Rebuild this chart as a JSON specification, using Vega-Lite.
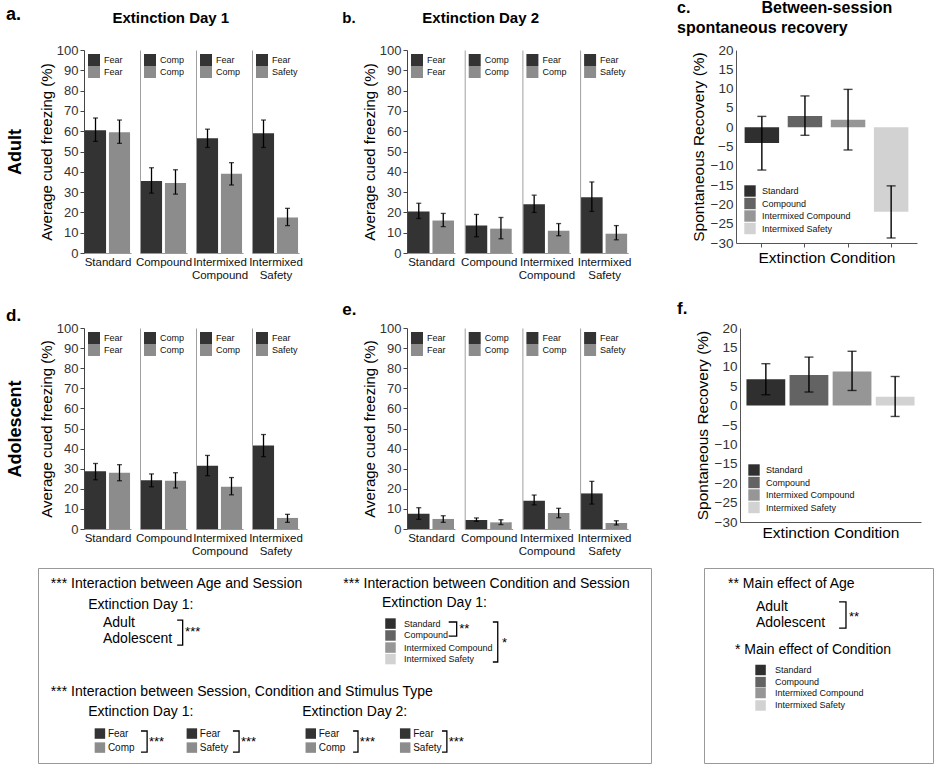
{
"$schema": "https://vega.github.io/schema/vega-lite/v6.json",
"background": "white",
"padding": {"left": 6, "top": 0, "right": 2, "bottom": 2},
"datasets": {
"freezing": [
{"age":"Adult","day":1,"condition":"Standard","order":1,"stim":"Fear","mean":60.5,"lo":55,"hi":66.5},
{"age":"Adult","day":1,"condition":"Standard","order":2,"stim":"Fear","mean":59.5,"lo":54,"hi":65.5},
{"age":"Adult","day":1,"condition":"Compound","order":1,"stim":"Comp","mean":35.5,"lo":29.5,"hi":42},
{"age":"Adult","day":1,"condition":"Compound","order":2,"stim":"Comp","mean":34.5,"lo":29,"hi":41},
{"age":"Adult","day":1,"condition":"Intermixed Compound","order":1,"stim":"Fear","mean":56.5,"lo":52,"hi":61},
{"age":"Adult","day":1,"condition":"Intermixed Compound","order":2,"stim":"Comp","mean":39,"lo":33.5,"hi":44.5},
{"age":"Adult","day":1,"condition":"Intermixed Safety","order":1,"stim":"Fear","mean":59,"lo":52,"hi":65.5},
{"age":"Adult","day":1,"condition":"Intermixed Safety","order":2,"stim":"Safety","mean":17.5,"lo":13.5,"hi":22},
{"age":"Adult","day":2,"condition":"Standard","order":1,"stim":"Fear","mean":20.5,"lo":17,"hi":24.5},
{"age":"Adult","day":2,"condition":"Standard","order":2,"stim":"Fear","mean":16,"lo":13,"hi":19.5},
{"age":"Adult","day":2,"condition":"Compound","order":1,"stim":"Comp","mean":13.5,"lo":8,"hi":19},
{"age":"Adult","day":2,"condition":"Compound","order":2,"stim":"Comp","mean":12,"lo":7,"hi":17.5},
{"age":"Adult","day":2,"condition":"Intermixed Compound","order":1,"stim":"Fear","mean":24,"lo":20,"hi":28.5},
{"age":"Adult","day":2,"condition":"Intermixed Compound","order":2,"stim":"Comp","mean":11,"lo":8.5,"hi":14.5},
{"age":"Adult","day":2,"condition":"Intermixed Safety","order":1,"stim":"Fear","mean":27.5,"lo":20.5,"hi":35},
{"age":"Adult","day":2,"condition":"Intermixed Safety","order":2,"stim":"Safety","mean":9.5,"lo":6.5,"hi":13.5},
{"age":"Adolescent","day":1,"condition":"Standard","order":1,"stim":"Fear","mean":28.7,"lo":24.5,"hi":32.6},
{"age":"Adolescent","day":1,"condition":"Standard","order":2,"stim":"Fear","mean":28,"lo":24,"hi":32},
{"age":"Adolescent","day":1,"condition":"Compound","order":1,"stim":"Comp","mean":24.2,"lo":21,"hi":27.4},
{"age":"Adolescent","day":1,"condition":"Compound","order":2,"stim":"Comp","mean":24,"lo":20.4,"hi":28},
{"age":"Adolescent","day":1,"condition":"Intermixed Compound","order":1,"stim":"Fear","mean":31.5,"lo":26.5,"hi":36.6},
{"age":"Adolescent","day":1,"condition":"Intermixed Compound","order":2,"stim":"Comp","mean":21,"lo":17,"hi":25.6},
{"age":"Adolescent","day":1,"condition":"Intermixed Safety","order":1,"stim":"Fear","mean":41.5,"lo":36,"hi":47},
{"age":"Adolescent","day":1,"condition":"Intermixed Safety","order":2,"stim":"Safety","mean":5.5,"lo":3.3,"hi":7.3},
{"age":"Adolescent","day":2,"condition":"Standard","order":1,"stim":"Fear","mean":7.6,"lo":4.8,"hi":10.6},
{"age":"Adolescent","day":2,"condition":"Standard","order":2,"stim":"Fear","mean":5,"lo":3.3,"hi":6.6},
{"age":"Adolescent","day":2,"condition":"Compound","order":1,"stim":"Comp","mean":4.5,"lo":3.8,"hi":5.5},
{"age":"Adolescent","day":2,"condition":"Compound","order":2,"stim":"Comp","mean":3.3,"lo":2.2,"hi":4.6},
{"age":"Adolescent","day":2,"condition":"Intermixed Compound","order":1,"stim":"Fear","mean":14,"lo":12,"hi":16.9},
{"age":"Adolescent","day":2,"condition":"Intermixed Compound","order":2,"stim":"Comp","mean":8,"lo":5.6,"hi":10.3},
{"age":"Adolescent","day":2,"condition":"Intermixed Safety","order":1,"stim":"Fear","mean":17.7,"lo":12.4,"hi":23.7},
{"age":"Adolescent","day":2,"condition":"Intermixed Safety","order":2,"stim":"Safety","mean":3,"lo":2,"hi":4.1}
],
"recovery": [
{"age":"Adult","condition":"Standard","sr":-4.1,"lo":-11.1,"hi":2.8},
{"age":"Adult","condition":"Compound","sr":2.9,"lo":-2.1,"hi":8.1},
{"age":"Adult","condition":"Intermixed Compound","sr":1.9,"lo":-5.9,"hi":9.8},
{"age":"Adult","condition":"Intermixed Safety","sr":-21.9,"lo":-28.7,"hi":-15.2},
{"age":"Adolescent","condition":"Standard","sr":6.8,"lo":2.8,"hi":10.8},
{"age":"Adolescent","condition":"Compound","sr":7.9,"lo":3.5,"hi":12.5},
{"age":"Adolescent","condition":"Intermixed Compound","sr":8.8,"lo":3.9,"hi":14},
{"age":"Adolescent","condition":"Intermixed Safety","sr":2.3,"lo":-2.8,"hi":7.5}
],
"ann": [
{"box":1,"kind":"h","text":"*** Interaction between Age and Session","x":2.1,"y":8.2},
{"box":1,"kind":"h","text":"*** Interaction between Condition and Session","x":49.8,"y":8.2},
{"box":1,"kind":"h","text":"Extinction Day 1:","x":8.2,"y":19},
{"box":1,"kind":"h","text":"Extinction Day 1:","x":56.1,"y":18},
{"box":1,"kind":"h","text":"Adult","x":10.6,"y":28.2},
{"box":1,"kind":"h","text":"Adolescent","x":10.6,"y":36.4},
{"box":1,"kind":"m","text":"***","x":24.0,"y":32.8},
{"box":1,"kind":"m","text":"**","x":68.7,"y":31.5},
{"box":1,"kind":"m","text":"*","x":75.7,"y":38.5},
{"box":1,"kind":"h","text":"*** Interaction between Session, Condition and Stimulus Type","x":2.1,"y":63.6},
{"box":1,"kind":"h","text":"Extinction Day 1:","x":8.2,"y":73.8},
{"box":1,"kind":"h","text":"Extinction Day 2:","x":43.1,"y":73.8},
{"box":1,"kind":"m","text":"***","x":18.1,"y":89.2},
{"box":1,"kind":"m","text":"***","x":33.1,"y":89.2},
{"box":1,"kind":"m","text":"***","x":52.5,"y":89.2},
{"box":1,"kind":"m","text":"***","x":67.0,"y":89.2},
{"box":1,"kind":"s","text":"Standard","x":59.7,"y":28.5},
{"box":1,"kind":"s","text":"Compound","x":59.7,"y":34.6},
{"box":1,"kind":"s","text":"Intermixed Compound","x":59.7,"y":40.8},
{"box":1,"kind":"s","text":"Intermixed Safety","x":59.7,"y":46.7},
{"box":1,"kind":"sw","key":"Standard","x":57.5,"y":28.5},
{"box":1,"kind":"sw","key":"Compound","x":57.5,"y":34.6},
{"box":1,"kind":"sw","key":"Intermixed Compound","x":57.5,"y":40.8},
{"box":1,"kind":"sw","key":"Intermixed Safety","x":57.5,"y":46.7},
{"box":1,"kind":"c","text":"Fear","x":11.4,"y":85},
{"box":1,"kind":"c","text":"Comp","x":11.4,"y":92.2},
{"box":1,"kind":"c","text":"Fear","x":26.4,"y":85},
{"box":1,"kind":"c","text":"Safety","x":26.4,"y":92.2},
{"box":1,"kind":"c","text":"Fear","x":45.8,"y":85},
{"box":1,"kind":"c","text":"Comp","x":45.8,"y":92.2},
{"box":1,"kind":"c","text":"Fear","x":61.2,"y":85},
{"box":1,"kind":"c","text":"Safety","x":61.2,"y":92.2},
{"box":1,"kind":"sw","key":"first","x":10.1,"y":84.9},
{"box":1,"kind":"sw","key":"second","x":10.1,"y":92.1},
{"box":1,"kind":"sw","key":"first","x":25.1,"y":84.9},
{"box":1,"kind":"sw","key":"second","x":25.1,"y":92.1},
{"box":1,"kind":"sw","key":"first","x":44.5,"y":84.9},
{"box":1,"kind":"sw","key":"second","x":44.5,"y":92.1},
{"box":1,"kind":"sw","key":"first","x":59.9,"y":84.9},
{"box":1,"kind":"sw","key":"second","x":59.9,"y":92.1},
{"box":1,"kind":"br","bid":"b1","seq":0,"x":22.7,"y":26.7},
{"box":1,"kind":"br","bid":"b1","seq":1,"x":23.6,"y":26.7},
{"box":1,"kind":"br","bid":"b1","seq":2,"x":23.6,"y":39.5},
{"box":1,"kind":"br","bid":"b1","seq":3,"x":22.7,"y":39.5},
{"box":1,"kind":"br","bid":"b2","seq":0,"x":67.0,"y":27.7},
{"box":1,"kind":"br","bid":"b2","seq":1,"x":68.3,"y":27.7},
{"box":1,"kind":"br","bid":"b2","seq":2,"x":68.3,"y":34.9},
{"box":1,"kind":"br","bid":"b2","seq":3,"x":67.0,"y":34.9},
{"box":1,"kind":"br","bid":"b3","seq":0,"x":74.2,"y":27.7},
{"box":1,"kind":"br","bid":"b3","seq":1,"x":75.0,"y":27.7},
{"box":1,"kind":"br","bid":"b3","seq":2,"x":75.0,"y":48.2},
{"box":1,"kind":"br","bid":"b3","seq":3,"x":74.2,"y":48.2},
{"box":1,"kind":"br","bid":"g1","seq":0,"x":16.8,"y":83.6},
{"box":1,"kind":"br","bid":"g1","seq":1,"x":17.8,"y":83.6},
{"box":1,"kind":"br","bid":"g1","seq":2,"x":17.8,"y":94.4},
{"box":1,"kind":"br","bid":"g1","seq":3,"x":16.8,"y":94.4},
{"box":1,"kind":"br","bid":"g2","seq":0,"x":31.8,"y":83.6},
{"box":1,"kind":"br","bid":"g2","seq":1,"x":32.8,"y":83.6},
{"box":1,"kind":"br","bid":"g2","seq":2,"x":32.8,"y":94.4},
{"box":1,"kind":"br","bid":"g2","seq":3,"x":31.8,"y":94.4},
{"box":1,"kind":"br","bid":"g3","seq":0,"x":51.4,"y":83.6},
{"box":1,"kind":"br","bid":"g3","seq":1,"x":52.2,"y":83.6},
{"box":1,"kind":"br","bid":"g3","seq":2,"x":52.2,"y":94.4},
{"box":1,"kind":"br","bid":"g3","seq":3,"x":51.4,"y":94.4},
{"box":1,"kind":"br","bid":"g4","seq":0,"x":65.9,"y":83.6},
{"box":1,"kind":"br","bid":"g4","seq":1,"x":66.7,"y":83.6},
{"box":1,"kind":"br","bid":"g4","seq":2,"x":66.7,"y":94.4},
{"box":1,"kind":"br","bid":"g4","seq":3,"x":65.9,"y":94.4},
{"box":2,"kind":"h","text":"** Main effect of Age","x":10.5,"y":8.2},
{"box":2,"kind":"h","text":"Adult","x":22.7,"y":20},
{"box":2,"kind":"h","text":"Adolescent","x":22.7,"y":28.2},
{"box":2,"kind":"m","text":"**","x":63.3,"y":25.1},
{"box":2,"kind":"h","text":"* Main effect of Condition","x":13.5,"y":42.1},
{"box":2,"kind":"s","text":"Standard","x":31,"y":52.3},
{"box":2,"kind":"s","text":"Compound","x":31,"y":58.5},
{"box":2,"kind":"s","text":"Intermixed Compound","x":31,"y":64.1},
{"box":2,"kind":"s","text":"Intermixed Safety","x":31,"y":70.5},
{"box":2,"kind":"sw","key":"Standard","x":24.7,"y":52.3},
{"box":2,"kind":"sw","key":"Compound","x":24.7,"y":58.5},
{"box":2,"kind":"sw","key":"Intermixed Compound","x":24.7,"y":64.1},
{"box":2,"kind":"sw","key":"Intermixed Safety","x":24.7,"y":70.5},
{"box":2,"kind":"br","bid":"a1","seq":0,"x":59.0,"y":17.4},
{"box":2,"kind":"br","bid":"a1","seq":1,"x":62.0,"y":17.4},
{"box":2,"kind":"br","bid":"a1","seq":2,"x":62.0,"y":30.8},
{"box":2,"kind":"br","bid":"a1","seq":3,"x":59.0,"y":30.8}
]
},
"config": {
"font": "Liberation Sans",
"view": {"stroke": null},
"axis": {"grid": false, "labelFont": "Liberation Sans", "titleFont": "Liberation Sans", "titleFontWeight": "normal", "domainWidth": 1},
"axisX": {"labels": false, "ticks": false, "domainColor": "#999999", "titleFontSize": 11.5, "titlePadding": 3, "titleColor": "#111111", "titleLineHeight": 13.5},
"axisY": {"labels": false, "ticks": false, "domainColor": "#a0a0a0"},
"legend": {"orient": "top-left", "offset": 4, "symbolType": "square", "symbolSize": 144, "symbolStrokeWidth": 0, "labelFontSize": 9, "labelOffset": 4, "padding": 0, "rowPadding": 0, "labelColor": "#111111", "labelFont": "Liberation Sans"},
"title": {"font": "Liberation Sans", "fontWeight": "bold", "color": "#000000"}
},
"resolve": {"scale": {"color": "independent"}, "legend": {"color": "independent"}},
"spacing": 10,
"vconcat": [
{
"resolve": {"scale": {"color": "independent"}, "legend": {"color": "independent"}},
"spacing": 19,
"vconcat": [
{
"resolve": {"scale": {"color": "independent"}, "legend": {"color": "independent"}},
"spacing": 0,
"hconcat": [
{"title": {"text": "a.", "anchor": "start", "frame": "bounds", "fontSize": 18, "offset": 26}, "width": 1, "height": 203, "data": {"name": "freezing"}, "transform": [{"filter": "datum.age==='Adult'"}], "mark": {"type": "point", "opacity": 0, "size": 0, "strokeWidth": 0}, "encoding": {"y": {"field": "mean", "type": "quantitative", "scale": {"domain": [0, 100]}, "axis": {"title": "Adult", "labels": false, "ticks": false, "domain": false, "titleFontSize": 18, "titleFontWeight": "bold", "titleColor": "#000000", "titlePadding": 14}}}},
{
"resolve": {"scale": {"color": "independent"}, "legend": {"color": "independent"}},
"spacing": 46,
"hconcat": [
{
"resolve": {"scale": {"color": "independent"}, "legend": {"color": "independent"}},
"spacing": 39,
"hconcat": [
{
"title": {"text": "Extinction Day 1", "anchor": "middle", "frame": "bounds", "fontSize": 15, "offset": 18},
"spacing": 9,
"bounds": "flush",
"resolve": {"scale": {"color": "independent"}, "legend": {"color": "independent"}},
"hconcat": [
{"width":47,"height":203,"data":{"name":"freezing"},"transform":[{"filter":"datum.age==='Adult' && datum.day===1 && datum.condition==='Standard'"},{"calculate":"datum.order + ' ' + datum.stim","as":"key"}],"encoding":{"x":{"field":"key","type":"nominal","scale":{"paddingInner":0.12,"paddingOuter":0.04},"axis":{"title":"Standard"}}},"layer":[{"mark":{"type":"bar"},"encoding":{"y":{"field":"mean","type":"quantitative","scale":{"domain":[0,100]},"axis":{"title":"Average cued freezing (%)","labels":true,"ticks":true,"values":[0,10,20,30,40,50,60,70,80,90,100],"tickSize":4,"labelFontSize":13,"labelPadding":2,"labelColor":"#333333","titleFontSize":15,"titlePadding":2,"titleColor":"#000000","domainColor":"#444444","tickColor":"#444444"}},"color":{"field":"key","type":"nominal","title":null,"scale":{"range":["#333333","#8c8c8c"]},"legend":{"labelExpr":"substring(datum.label, 2)"}}}},{"mark":{"type":"errorbar","ticks":true,"size":5,"thickness":1.3,"color":"#000000"},"encoding":{"y":{"field":"lo","type":"quantitative","scale":{"domain":[0,100]},"axis":{"title":"Average cued freezing (%)","labels":true,"ticks":true,"values":[0,10,20,30,40,50,60,70,80,90,100],"tickSize":4,"labelFontSize":13,"labelPadding":2,"labelColor":"#333333","titleFontSize":15,"titlePadding":2,"titleColor":"#000000","domainColor":"#444444","tickColor":"#444444"}},"y2":{"field":"hi"}}}]},
{"width":47,"height":203,"data":{"name":"freezing"},"transform":[{"filter":"datum.age==='Adult' && datum.day===1 && datum.condition==='Compound'"},{"calculate":"datum.order + ' ' + datum.stim","as":"key"}],"encoding":{"x":{"field":"key","type":"nominal","scale":{"paddingInner":0.12,"paddingOuter":0.04},"axis":{"title":"Compound"}}},"layer":[{"mark":{"type":"bar"},"encoding":{"y":{"field":"mean","type":"quantitative","scale":{"domain":[0,100]},"axis":{"title":null}},"color":{"field":"key","type":"nominal","title":null,"scale":{"range":["#333333","#8c8c8c"]},"legend":{"labelExpr":"substring(datum.label, 2)"}}}},{"mark":{"type":"errorbar","ticks":true,"size":5,"thickness":1.3,"color":"#000000"},"encoding":{"y":{"field":"lo","type":"quantitative","scale":{"domain":[0,100]},"axis":{"title":null}},"y2":{"field":"hi"}}}]},
{"width":47,"height":203,"data":{"name":"freezing"},"transform":[{"filter":"datum.age==='Adult' && datum.day===1 && datum.condition==='Intermixed Compound'"},{"calculate":"datum.order + ' ' + datum.stim","as":"key"}],"encoding":{"x":{"field":"key","type":"nominal","scale":{"paddingInner":0.12,"paddingOuter":0.04},"axis":{"title":["Intermixed","Compound"]}}},"layer":[{"mark":{"type":"bar"},"encoding":{"y":{"field":"mean","type":"quantitative","scale":{"domain":[0,100]},"axis":{"title":null}},"color":{"field":"key","type":"nominal","title":null,"scale":{"range":["#333333","#8c8c8c"]},"legend":{"labelExpr":"substring(datum.label, 2)"}}}},{"mark":{"type":"errorbar","ticks":true,"size":5,"thickness":1.3,"color":"#000000"},"encoding":{"y":{"field":"lo","type":"quantitative","scale":{"domain":[0,100]},"axis":{"title":null}},"y2":{"field":"hi"}}}]},
{"width":47,"height":203,"data":{"name":"freezing"},"transform":[{"filter":"datum.age==='Adult' && datum.day===1 && datum.condition==='Intermixed Safety'"},{"calculate":"datum.order + ' ' + datum.stim","as":"key"}],"encoding":{"x":{"field":"key","type":"nominal","scale":{"paddingInner":0.12,"paddingOuter":0.04},"axis":{"title":["Intermixed","Safety"]}}},"layer":[{"mark":{"type":"bar"},"encoding":{"y":{"field":"mean","type":"quantitative","scale":{"domain":[0,100]},"axis":{"title":null}},"color":{"field":"key","type":"nominal","title":null,"scale":{"range":["#333333","#8c8c8c"]},"legend":{"labelExpr":"substring(datum.label, 2)"}}}},{"mark":{"type":"errorbar","ticks":true,"size":5,"thickness":1.3,"color":"#000000"},"encoding":{"y":{"field":"lo","type":"quantitative","scale":{"domain":[0,100]},"axis":{"title":null}},"y2":{"field":"hi"}}}]}
]
},
{
"title": {"text": "b.\u00a0\u00a0\u00a0\u00a0\u00a0\u00a0\u00a0\u00a0\u00a0\u00a0\u00a0\u00a0\u00a0\u00a0\u00a0\u00a0Extinction Day 2", "anchor": "start", "frame": "bounds", "dx": -20, "fontSize": 15, "offset": 18},
"spacing": 9.7,
"bounds": "flush",
"resolve": {"scale": {"color": "independent"}, "legend": {"color": "independent"}},
"hconcat": [
{"width":48,"height":203,"data":{"name":"freezing"},"transform":[{"filter":"datum.age==='Adult' && datum.day===2 && datum.condition==='Standard'"},{"calculate":"datum.order + ' ' + datum.stim","as":"key"}],"encoding":{"x":{"field":"key","type":"nominal","scale":{"paddingInner":0.12,"paddingOuter":0.04},"axis":{"title":"Standard"}}},"layer":[{"mark":{"type":"bar"},"encoding":{"y":{"field":"mean","type":"quantitative","scale":{"domain":[0,100]},"axis":{"title":"Average cued freezing (%)","labels":true,"ticks":true,"values":[0,10,20,30,40,50,60,70,80,90,100],"tickSize":4,"labelFontSize":13,"labelPadding":2,"labelColor":"#333333","titleFontSize":15,"titlePadding":2,"titleColor":"#000000","domainColor":"#444444","tickColor":"#444444"}},"color":{"field":"key","type":"nominal","title":null,"scale":{"range":["#333333","#8c8c8c"]},"legend":{"labelExpr":"substring(datum.label, 2)"}}}},{"mark":{"type":"errorbar","ticks":true,"size":5,"thickness":1.3,"color":"#000000"},"encoding":{"y":{"field":"lo","type":"quantitative","scale":{"domain":[0,100]},"axis":{"title":"Average cued freezing (%)","labels":true,"ticks":true,"values":[0,10,20,30,40,50,60,70,80,90,100],"tickSize":4,"labelFontSize":13,"labelPadding":2,"labelColor":"#333333","titleFontSize":15,"titlePadding":2,"titleColor":"#000000","domainColor":"#444444","tickColor":"#444444"}},"y2":{"field":"hi"}}}]},
{"width":48,"height":203,"data":{"name":"freezing"},"transform":[{"filter":"datum.age==='Adult' && datum.day===2 && datum.condition==='Compound'"},{"calculate":"datum.order + ' ' + datum.stim","as":"key"}],"encoding":{"x":{"field":"key","type":"nominal","scale":{"paddingInner":0.12,"paddingOuter":0.04},"axis":{"title":"Compound"}}},"layer":[{"mark":{"type":"bar"},"encoding":{"y":{"field":"mean","type":"quantitative","scale":{"domain":[0,100]},"axis":{"title":null}},"color":{"field":"key","type":"nominal","title":null,"scale":{"range":["#333333","#8c8c8c"]},"legend":{"labelExpr":"substring(datum.label, 2)"}}}},{"mark":{"type":"errorbar","ticks":true,"size":5,"thickness":1.3,"color":"#000000"},"encoding":{"y":{"field":"lo","type":"quantitative","scale":{"domain":[0,100]},"axis":{"title":null}},"y2":{"field":"hi"}}}]},
{"width":48,"height":203,"data":{"name":"freezing"},"transform":[{"filter":"datum.age==='Adult' && datum.day===2 && datum.condition==='Intermixed Compound'"},{"calculate":"datum.order + ' ' + datum.stim","as":"key"}],"encoding":{"x":{"field":"key","type":"nominal","scale":{"paddingInner":0.12,"paddingOuter":0.04},"axis":{"title":["Intermixed","Compound"]}}},"layer":[{"mark":{"type":"bar"},"encoding":{"y":{"field":"mean","type":"quantitative","scale":{"domain":[0,100]},"axis":{"title":null}},"color":{"field":"key","type":"nominal","title":null,"scale":{"range":["#333333","#8c8c8c"]},"legend":{"labelExpr":"substring(datum.label, 2)"}}}},{"mark":{"type":"errorbar","ticks":true,"size":5,"thickness":1.3,"color":"#000000"},"encoding":{"y":{"field":"lo","type":"quantitative","scale":{"domain":[0,100]},"axis":{"title":null}},"y2":{"field":"hi"}}}]},
{"width":48,"height":203,"data":{"name":"freezing"},"transform":[{"filter":"datum.age==='Adult' && datum.day===2 && datum.condition==='Intermixed Safety'"},{"calculate":"datum.order + ' ' + datum.stim","as":"key"}],"encoding":{"x":{"field":"key","type":"nominal","scale":{"paddingInner":0.12,"paddingOuter":0.04},"axis":{"title":["Intermixed","Safety"]}}},"layer":[{"mark":{"type":"bar"},"encoding":{"y":{"field":"mean","type":"quantitative","scale":{"domain":[0,100]},"axis":{"title":null}},"color":{"field":"key","type":"nominal","title":null,"scale":{"range":["#333333","#8c8c8c"]},"legend":{"labelExpr":"substring(datum.label, 2)"}}}},{"mark":{"type":"errorbar","ticks":true,"size":5,"thickness":1.3,"color":"#000000"},"encoding":{"y":{"field":"lo","type":"quantitative","scale":{"domain":[0,100]},"axis":{"title":null}},"y2":{"field":"hi"}}}]}
]
}
]
},
{
"title": {"text": ["c.\u00a0\u00a0\u00a0\u00a0\u00a0\u00a0\u00a0\u00a0\u00a0\u00a0\u00a0\u00a0\u00a0\u00a0\u00a0\u00a0Between-session", "\u00a0\u00a0\u00a0\u00a0\u00a0\u00a0\u00a0\u00a0\u00a0\u00a0\u00a0\u00a0\u00a0\u00a0spontaneous recovery"], "anchor": "start", "frame": "group", "dx": -59, "fontSize": 16, "lineHeight": 20, "offset": 7},
"width": 181, "height": 193,
"data": {"name": "recovery"},
"transform": [{"filter": "datum.age==='Adult'"}],
"encoding": {"x": {"field": "condition", "type": "nominal", "sort": ["Standard","Compound","Intermixed Compound","Intermixed Safety"], "scale": {"paddingInner": 0.2, "paddingOuter": 0.2}, "axis": {"title": "Extinction Condition", "ticks": true, "tickSize": 4, "tickColor": "#555555", "domainColor": "#555555", "titleFontSize": 15.5, "titlePadding": 3, "titleColor": "#000000"}}},
"layer": [
{"mark": {"type": "bar"}, "encoding": {"y": {"field": "sr", "type": "quantitative", "scale": {"domain": [-30, 20], "nice": false}, "axis": {"title": "Spontaneous Recovery (%)", "labels": true, "ticks": false, "values": [-30,-25,-20,-15,-10,-5,0,5,10,15,20], "labelFontSize": 13.5, "labelPadding": 3, "labelColor": "#333333", "titleFontSize": 15.5, "titlePadding": 4, "titleColor": "#000000", "domainColor": "#555555"}}, "color": {"field": "condition", "type": "nominal", "title": null, "scale": {"domain": ["Standard","Compound","Intermixed Compound","Intermixed Safety"], "range": ["#2f2f2f","#636363","#969696","#d2d2d2"]}, "legend": {"orient": "bottom-left", "offset": 8, "symbolSize": 130, "labelFontSize": 9, "labelOffset": 6, "rowPadding": 0.5}}}},
{"mark": {"type": "errorbar", "ticks": true, "size": 9, "thickness": 1.4, "color": "#000000"}, "encoding": {"y": {"field": "lo", "type": "quantitative", "scale": {"domain": [-30, 20], "nice": false}, "axis": {"title": "Spontaneous Recovery (%)", "labels": true, "ticks": false, "values": [-30,-25,-20,-15,-10,-5,0,5,10,15,20], "labelFontSize": 13.5, "labelPadding": 3, "labelColor": "#333333", "titleFontSize": 15.5, "titlePadding": 4, "titleColor": "#000000", "domainColor": "#555555"}}, "y2": {"field": "hi"}}}
]
}
]
}
]
},
{
"resolve": {"scale": {"color": "independent"}, "legend": {"color": "independent"}},
"spacing": 0,
"hconcat": [
{"title": {"text": "d.", "anchor": "start", "frame": "bounds", "fontSize": 17, "offset": 3}, "width": 1, "height": 201, "data": {"name": "freezing"}, "transform": [{"filter": "datum.age==='Adolescent'"}], "mark": {"type": "point", "opacity": 0, "size": 0, "strokeWidth": 0}, "encoding": {"y": {"field": "mean", "type": "quantitative", "scale": {"domain": [0, 100]}, "axis": {"title": "Adolescent", "labels": false, "ticks": false, "domain": false, "titleFontSize": 18, "titleFontWeight": "bold", "titleColor": "#000000", "titlePadding": 14}}}},
{
"resolve": {"scale": {"color": "independent"}, "legend": {"color": "independent"}},
"spacing": 46,
"hconcat": [
{
"resolve": {"scale": {"color": "independent"}, "legend": {"color": "independent"}},
"spacing": 39,
"hconcat": [
{
"spacing": 9,
"bounds": "flush",
"resolve": {"scale": {"color": "independent"}, "legend": {"color": "independent"}},
"hconcat": [
{"width":47,"height":201,"data":{"name":"freezing"},"transform":[{"filter":"datum.age==='Adolescent' && datum.day===1 && datum.condition==='Standard'"},{"calculate":"datum.order + ' ' + datum.stim","as":"key"}],"encoding":{"x":{"field":"key","type":"nominal","scale":{"paddingInner":0.12,"paddingOuter":0.04},"axis":{"title":"Standard"}}},"layer":[{"mark":{"type":"bar"},"encoding":{"y":{"field":"mean","type":"quantitative","scale":{"domain":[0,100]},"axis":{"title":"Average cued freezing (%)","labels":true,"ticks":true,"values":[0,10,20,30,40,50,60,70,80,90,100],"tickSize":4,"labelFontSize":13,"labelPadding":2,"labelColor":"#333333","titleFontSize":15,"titlePadding":2,"titleColor":"#000000","domainColor":"#444444","tickColor":"#444444"}},"color":{"field":"key","type":"nominal","title":null,"scale":{"range":["#333333","#8c8c8c"]},"legend":{"labelExpr":"substring(datum.label, 2)"}}}},{"mark":{"type":"errorbar","ticks":true,"size":5,"thickness":1.3,"color":"#000000"},"encoding":{"y":{"field":"lo","type":"quantitative","scale":{"domain":[0,100]},"axis":{"title":"Average cued freezing (%)","labels":true,"ticks":true,"values":[0,10,20,30,40,50,60,70,80,90,100],"tickSize":4,"labelFontSize":13,"labelPadding":2,"labelColor":"#333333","titleFontSize":15,"titlePadding":2,"titleColor":"#000000","domainColor":"#444444","tickColor":"#444444"}},"y2":{"field":"hi"}}}]},
{"width":47,"height":201,"data":{"name":"freezing"},"transform":[{"filter":"datum.age==='Adolescent' && datum.day===1 && datum.condition==='Compound'"},{"calculate":"datum.order + ' ' + datum.stim","as":"key"}],"encoding":{"x":{"field":"key","type":"nominal","scale":{"paddingInner":0.12,"paddingOuter":0.04},"axis":{"title":"Compound"}}},"layer":[{"mark":{"type":"bar"},"encoding":{"y":{"field":"mean","type":"quantitative","scale":{"domain":[0,100]},"axis":{"title":null}},"color":{"field":"key","type":"nominal","title":null,"scale":{"range":["#333333","#8c8c8c"]},"legend":{"labelExpr":"substring(datum.label, 2)"}}}},{"mark":{"type":"errorbar","ticks":true,"size":5,"thickness":1.3,"color":"#000000"},"encoding":{"y":{"field":"lo","type":"quantitative","scale":{"domain":[0,100]},"axis":{"title":null}},"y2":{"field":"hi"}}}]},
{"width":47,"height":201,"data":{"name":"freezing"},"transform":[{"filter":"datum.age==='Adolescent' && datum.day===1 && datum.condition==='Intermixed Compound'"},{"calculate":"datum.order + ' ' + datum.stim","as":"key"}],"encoding":{"x":{"field":"key","type":"nominal","scale":{"paddingInner":0.12,"paddingOuter":0.04},"axis":{"title":["Intermixed","Compound"]}}},"layer":[{"mark":{"type":"bar"},"encoding":{"y":{"field":"mean","type":"quantitative","scale":{"domain":[0,100]},"axis":{"title":null}},"color":{"field":"key","type":"nominal","title":null,"scale":{"range":["#333333","#8c8c8c"]},"legend":{"labelExpr":"substring(datum.label, 2)"}}}},{"mark":{"type":"errorbar","ticks":true,"size":5,"thickness":1.3,"color":"#000000"},"encoding":{"y":{"field":"lo","type":"quantitative","scale":{"domain":[0,100]},"axis":{"title":null}},"y2":{"field":"hi"}}}]},
{"width":47,"height":201,"data":{"name":"freezing"},"transform":[{"filter":"datum.age==='Adolescent' && datum.day===1 && datum.condition==='Intermixed Safety'"},{"calculate":"datum.order + ' ' + datum.stim","as":"key"}],"encoding":{"x":{"field":"key","type":"nominal","scale":{"paddingInner":0.12,"paddingOuter":0.04},"axis":{"title":["Intermixed","Safety"]}}},"layer":[{"mark":{"type":"bar"},"encoding":{"y":{"field":"mean","type":"quantitative","scale":{"domain":[0,100]},"axis":{"title":null}},"color":{"field":"key","type":"nominal","title":null,"scale":{"range":["#333333","#8c8c8c"]},"legend":{"labelExpr":"substring(datum.label, 2)"}}}},{"mark":{"type":"errorbar","ticks":true,"size":5,"thickness":1.3,"color":"#000000"},"encoding":{"y":{"field":"lo","type":"quantitative","scale":{"domain":[0,100]},"axis":{"title":null}},"y2":{"field":"hi"}}}]}
]
},
{
"title": {"text": "e.", "anchor": "start", "frame": "bounds", "dx": -20, "fontSize": 17, "offset": 3},
"spacing": 9.7,
"bounds": "flush",
"resolve": {"scale": {"color": "independent"}, "legend": {"color": "independent"}},
"hconcat": [
{"width":48,"height":201,"data":{"name":"freezing"},"transform":[{"filter":"datum.age==='Adolescent' && datum.day===2 && datum.condition==='Standard'"},{"calculate":"datum.order + ' ' + datum.stim","as":"key"}],"encoding":{"x":{"field":"key","type":"nominal","scale":{"paddingInner":0.12,"paddingOuter":0.04},"axis":{"title":"Standard"}}},"layer":[{"mark":{"type":"bar"},"encoding":{"y":{"field":"mean","type":"quantitative","scale":{"domain":[0,100]},"axis":{"title":"Average cued freezing (%)","labels":true,"ticks":true,"values":[0,10,20,30,40,50,60,70,80,90,100],"tickSize":4,"labelFontSize":13,"labelPadding":2,"labelColor":"#333333","titleFontSize":15,"titlePadding":2,"titleColor":"#000000","domainColor":"#444444","tickColor":"#444444"}},"color":{"field":"key","type":"nominal","title":null,"scale":{"range":["#333333","#8c8c8c"]},"legend":{"labelExpr":"substring(datum.label, 2)"}}}},{"mark":{"type":"errorbar","ticks":true,"size":5,"thickness":1.3,"color":"#000000"},"encoding":{"y":{"field":"lo","type":"quantitative","scale":{"domain":[0,100]},"axis":{"title":"Average cued freezing (%)","labels":true,"ticks":true,"values":[0,10,20,30,40,50,60,70,80,90,100],"tickSize":4,"labelFontSize":13,"labelPadding":2,"labelColor":"#333333","titleFontSize":15,"titlePadding":2,"titleColor":"#000000","domainColor":"#444444","tickColor":"#444444"}},"y2":{"field":"hi"}}}]},
{"width":48,"height":201,"data":{"name":"freezing"},"transform":[{"filter":"datum.age==='Adolescent' && datum.day===2 && datum.condition==='Compound'"},{"calculate":"datum.order + ' ' + datum.stim","as":"key"}],"encoding":{"x":{"field":"key","type":"nominal","scale":{"paddingInner":0.12,"paddingOuter":0.04},"axis":{"title":"Compound"}}},"layer":[{"mark":{"type":"bar"},"encoding":{"y":{"field":"mean","type":"quantitative","scale":{"domain":[0,100]},"axis":{"title":null}},"color":{"field":"key","type":"nominal","title":null,"scale":{"range":["#333333","#8c8c8c"]},"legend":{"labelExpr":"substring(datum.label, 2)"}}}},{"mark":{"type":"errorbar","ticks":true,"size":5,"thickness":1.3,"color":"#000000"},"encoding":{"y":{"field":"lo","type":"quantitative","scale":{"domain":[0,100]},"axis":{"title":null}},"y2":{"field":"hi"}}}]},
{"width":48,"height":201,"data":{"name":"freezing"},"transform":[{"filter":"datum.age==='Adolescent' && datum.day===2 && datum.condition==='Intermixed Compound'"},{"calculate":"datum.order + ' ' + datum.stim","as":"key"}],"encoding":{"x":{"field":"key","type":"nominal","scale":{"paddingInner":0.12,"paddingOuter":0.04},"axis":{"title":["Intermixed","Compound"]}}},"layer":[{"mark":{"type":"bar"},"encoding":{"y":{"field":"mean","type":"quantitative","scale":{"domain":[0,100]},"axis":{"title":null}},"color":{"field":"key","type":"nominal","title":null,"scale":{"range":["#333333","#8c8c8c"]},"legend":{"labelExpr":"substring(datum.label, 2)"}}}},{"mark":{"type":"errorbar","ticks":true,"size":5,"thickness":1.3,"color":"#000000"},"encoding":{"y":{"field":"lo","type":"quantitative","scale":{"domain":[0,100]},"axis":{"title":null}},"y2":{"field":"hi"}}}]},
{"width":48,"height":201,"data":{"name":"freezing"},"transform":[{"filter":"datum.age==='Adolescent' && datum.day===2 && datum.condition==='Intermixed Safety'"},{"calculate":"datum.order + ' ' + datum.stim","as":"key"}],"encoding":{"x":{"field":"key","type":"nominal","scale":{"paddingInner":0.12,"paddingOuter":0.04},"axis":{"title":["Intermixed","Safety"]}}},"layer":[{"mark":{"type":"bar"},"encoding":{"y":{"field":"mean","type":"quantitative","scale":{"domain":[0,100]},"axis":{"title":null}},"color":{"field":"key","type":"nominal","title":null,"scale":{"range":["#333333","#8c8c8c"]},"legend":{"labelExpr":"substring(datum.label, 2)"}}}},{"mark":{"type":"errorbar","ticks":true,"size":5,"thickness":1.3,"color":"#000000"},"encoding":{"y":{"field":"lo","type":"quantitative","scale":{"domain":[0,100]},"axis":{"title":null}},"y2":{"field":"hi"}}}]}
]
}
]
},
{
"title": {"text": "f.", "anchor": "start", "frame": "group", "dx": -63, "fontSize": 17, "offset": 3},
"width": 181, "height": 194,
"data": {"name": "recovery"},
"transform": [{"filter": "datum.age==='Adolescent'"}],
"encoding": {"x": {"field": "condition", "type": "nominal", "sort": ["Standard","Compound","Intermixed Compound","Intermixed Safety"], "scale": {"paddingInner": 0.1, "paddingOuter": 0.15}, "axis": {"title": "Extinction Condition", "ticks": false, "domainColor": "#555555", "titleFontSize": 15.5, "titlePadding": 3, "titleColor": "#000000"}}},
"layer": [
{"mark": {"type": "bar"}, "encoding": {"y": {"field": "sr", "type": "quantitative", "scale": {"domain": [-30, 20], "nice": false}, "axis": {"title": "Spontaneous Recovery (%)", "labels": true, "ticks": false, "values": [-30,-25,-20,-15,-10,-5,0,5,10,15,20], "labelFontSize": 13.5, "labelPadding": 3, "labelColor": "#333333", "titleFontSize": 15.5, "titlePadding": 4, "titleColor": "#000000", "domainColor": "#555555"}}, "color": {"field": "condition", "type": "nominal", "title": null, "scale": {"domain": ["Standard","Compound","Intermixed Compound","Intermixed Safety"], "range": ["#2f2f2f","#636363","#969696","#d2d2d2"]}, "legend": {"orient": "bottom-left", "offset": 8, "symbolSize": 130, "labelFontSize": 9, "labelOffset": 6, "rowPadding": 0.5}}}},
{"mark": {"type": "errorbar", "ticks": true, "size": 9, "thickness": 1.4, "color": "#000000"}, "encoding": {"y": {"field": "lo", "type": "quantitative", "scale": {"domain": [-30, 20], "nice": false}, "axis": {"title": "Spontaneous Recovery (%)", "labels": true, "ticks": false, "values": [-30,-25,-20,-15,-10,-5,0,5,10,15,20], "labelFontSize": 13.5, "labelPadding": 3, "labelColor": "#333333", "titleFontSize": 15.5, "titlePadding": 4, "titleColor": "#000000", "domainColor": "#555555"}}, "y2": {"field": "hi"}}}
]
}
]
}
]
}
]
},
{
"resolve": {"scale": {"color": "independent"}, "legend": {"color": "independent"}},
"spacing": 51,
"hconcat": [
{
"width": 613, "height": 195,
"view": {"stroke": "#999999", "strokeWidth": 1},
"data": {"name": "ann"},
"transform": [{"filter": "datum.box===1"}],
"encoding": {
"x": {"field": "x", "type": "quantitative", "scale": {"domain": [0, 100], "nice": false, "zero": false}, "axis": null},
"y": {"field": "y", "type": "quantitative", "scale": {"domain": [0, 100], "nice": false, "zero": false, "reverse": true}, "axis": null}
},
"layer": [
{"transform": [{"filter": "datum.kind==='h'"}], "mark": {"type": "text", "align": "left", "baseline": "middle", "fontSize": 14, "color": "#000000"}, "encoding": {"text": {"field": "text"}}},
{"transform": [{"filter": "datum.kind==='m'"}], "mark": {"type": "text", "align": "left", "baseline": "middle", "fontSize": 13, "color": "#000000"}, "encoding": {"text": {"field": "text"}}},
{"transform": [{"filter": "datum.kind==='s'"}], "mark": {"type": "text", "align": "left", "baseline": "middle", "fontSize": 9, "color": "#111111"}, "encoding": {"text": {"field": "text"}}},
{"transform": [{"filter": "datum.kind==='c'"}], "mark": {"type": "text", "align": "left", "baseline": "middle", "fontSize": 10, "color": "#111111"}, "encoding": {"text": {"field": "text"}}},
{"transform": [{"filter": "datum.kind==='sw'"}], "mark": {"type": "square", "size": 110, "opacity": 1}, "encoding": {"color": {"field": "key", "type": "nominal", "scale": {"domain": ["first","second","Standard","Compound","Intermixed Compound","Intermixed Safety"], "range": ["#333333","#8c8c8c","#2f2f2f","#636363","#969696","#d2d2d2"]}, "legend": null}}},
{"transform": [{"filter": "datum.kind==='br'"}], "mark": {"type": "line", "color": "#000000", "strokeWidth": 1.3}, "encoding": {"detail": {"field": "bid"}, "order": {"field": "seq"}}}
]
},
{
"width": 229, "height": 195,
"view": {"stroke": "#999999", "strokeWidth": 1},
"data": {"name": "ann"},
"transform": [{"filter": "datum.box===2"}],
"encoding": {
"x": {"field": "x", "type": "quantitative", "scale": {"domain": [0, 100], "nice": false, "zero": false}, "axis": null},
"y": {"field": "y", "type": "quantitative", "scale": {"domain": [0, 100], "nice": false, "zero": false, "reverse": true}, "axis": null}
},
"layer": [
{"transform": [{"filter": "datum.kind==='h'"}], "mark": {"type": "text", "align": "left", "baseline": "middle", "fontSize": 14, "color": "#000000"}, "encoding": {"text": {"field": "text"}}},
{"transform": [{"filter": "datum.kind==='m'"}], "mark": {"type": "text", "align": "left", "baseline": "middle", "fontSize": 13, "color": "#000000"}, "encoding": {"text": {"field": "text"}}},
{"transform": [{"filter": "datum.kind==='s'"}], "mark": {"type": "text", "align": "left", "baseline": "middle", "fontSize": 9, "color": "#111111"}, "encoding": {"text": {"field": "text"}}},
{"transform": [{"filter": "datum.kind==='sw'"}], "mark": {"type": "square", "size": 110, "opacity": 1}, "encoding": {"color": {"field": "key", "type": "nominal", "scale": {"domain": ["Standard","Compound","Intermixed Compound","Intermixed Safety"], "range": ["#2f2f2f","#636363","#969696","#d2d2d2"]}, "legend": null}}},
{"transform": [{"filter": "datum.kind==='br'"}], "mark": {"type": "line", "color": "#000000", "strokeWidth": 1.3}, "encoding": {"detail": {"field": "bid"}, "order": {"field": "seq"}}}
]
}
]
}
]
}
